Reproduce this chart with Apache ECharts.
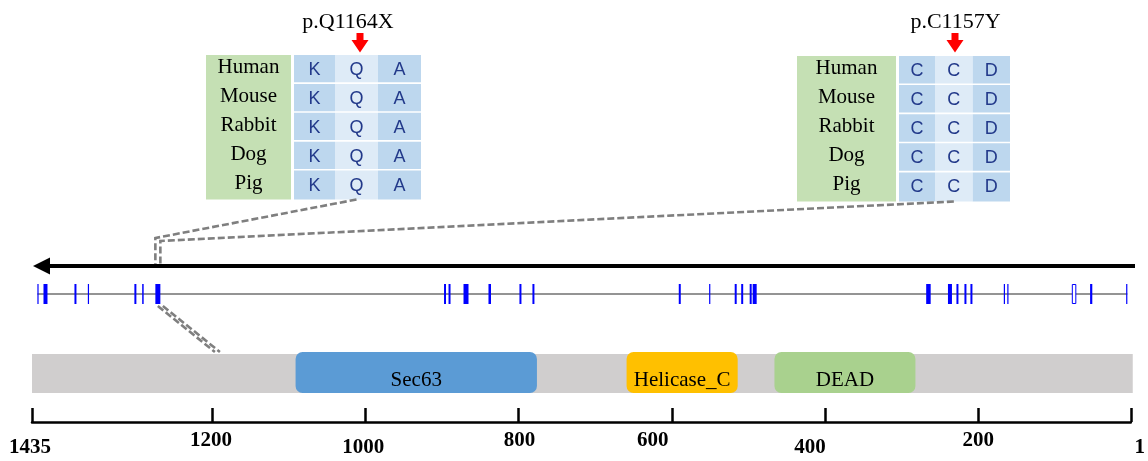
<!DOCTYPE html>
<html><head><meta charset="utf-8">
<script src="https://cdn.jsdelivr.net/npm/echarts@6/dist/echarts.min.js"></script>
<style>html,body{margin:0;padding:0;background:#fff}#c{width:1148px;height:461px}</style>
</head><body><div id="c"></div>
<script>
// ================= DATA =================
const proteinMin = 1;
const proteinMax = 1435;
const proteinTicks = [1435, 1200, 1000, 800, 600, 400, 200, 1];

const domainNames = ['Sec63', 'Helicase_C', 'DEAD'];
const domainFrom  = [1091, 659, 466];
const domainTo    = [776, 514, 282];

// exon track (relative genomic position, gene drawn right -> left)
const exonStart  = [3.4, 38.5, 55, 122.4, 125.9, 158.5, 164.5, 172.5, 179, 200.3, 374.5, 379.5, 388, 394.5, 420.9, 450.5, 597, 610, 640.5, 663, 681, 685.5, 971.5, 988.2, 995.5, 1042.9, 1055.5, 1084.5, 1093.4];
const exonLength = [1.2, 2.2, 3.5, 1.2, 1.2, 2, 2, 2, 4, 4.5, 4, 2, 2, 2, 1.2, 2, 2, 2, 2.5, 5, 2, 2, 5, 1.5, 2, 1.2, 2, 4, 1.2];
const exonIsUTR  = [0, 0, 1, 0, 0, 0, 0, 0, 0, 0, 0, 0, 0, 0, 0, 0, 0, 0, 0, 0, 0, 0, 0, 0, 0, 0, 0, 0, 0];
const mutatedExonIndex = 22;
const zoomTargetAA = 1193;

const speciesNames = ['Human', 'Mouse', 'Rabbit', 'Dog', 'Pig'];
const mutationNames = ['p.Q1164X', 'p.C1157Y'];
const mutationAA = [1164, 1157];
const residuesQ1164 = ['K', 'Q', 'A'];
const residuesC1157 = ['C', 'C', 'D'];

// ================= LAYOUT / STYLE =================
const SERIF = 'Liberation Serif';
const SANS = 'Liberation Sans';
const GRID = { left: 32, right: 15, top: 0, bottom: 39 };
const ARROW_Y = 266, EXON_Y0 = 284, EXON_Y1 = 304, BACKBONE_Y = 294;
const BAR_Y0 = 354, BAR_Y1 = 393, DOM_Y0 = 352, DOM_Y1 = 393, DOM_TEXT_Y = 380;
const domainColors = ['#5b9bd5', '#ffc000', '#a9d18e'];
const labelDx = { 1435: -2, 1200: -1, 1000: -2, 800: 1, 600: -19, 400: -15, 200: 0, 1: 9 };
const labelDy = { 1435: 7, 1200: 0, 1000: 7, 800: 0, 600: 0, 400: 7, 200: 0, 1: 7 };

const tableLayouts = [
  { labelX: 206, labelW: 85, cellX: 294, colW: [41, 43, 43], top: 55, rowH: 28.9,
    mutLabelX: 348, arrowX: 360, residues: residuesQ1164, name: mutationNames[0] },
  { labelX: 797, labelW: 99, cellX: 899, colW: [36, 37.7, 37.3], top: 56, rowH: 29.1,
    mutLabelX: 955.5, arrowX: 955, residues: residuesC1157, name: mutationNames[1] }
];

const rich = {};
proteinTicks.forEach(function (t) {
  const dx = labelDx[t] || 0, dy = labelDy[t] || 0;
  rich['t' + t] = {
    fontFamily: SERIF, fontWeight: 'bold', fontSize: 21, color: '#000',
    padding: [dy, dx < 0 ? -2 * dx : 0, 0, dx > 0 ? 2 * dx : 0]
  };
});

const chart = echarts.init(document.getElementById('c'), null, { renderer: 'canvas' });

function renderDomain(params, api) {
  const a = api.coord([api.value(0), 0]);
  const b = api.coord([api.value(1), 0]);
  const idx = api.value(2);
  const x = Math.min(a[0], b[0]), w = Math.abs(b[0] - a[0]);
  if (idx < 0) {
    return { type: 'rect', shape: { x: x, y: BAR_Y0, width: w + 2, height: BAR_Y1 - BAR_Y0 },
      style: { fill: '#d0cece' } };
  }
  return {
    type: 'group',
    children: [
      { type: 'rect', shape: { x: x, y: DOM_Y0, width: w, height: DOM_Y1 - DOM_Y0, r: 7 },
        style: { fill: domainColors[idx] } },
      { type: 'text', style: { text: domainNames[idx], x: x + w / 2, y: DOM_TEXT_Y,
        align: 'center', verticalAlign: 'middle', fontFamily: SERIF, fontSize: 21, fill: '#000' } }
    ]
  };
}

function renderExon(params, api) {
  const a = api.coord([api.value(0), 0]);
  const b = api.coord([api.value(0) + api.value(1), 0]);
  const x = Math.min(a[0], b[0]), w = Math.abs(b[0] - a[0]);
  if (api.value(2) === 1) {
    return { type: 'rect', shape: { x: x, y: EXON_Y0 + 0.5, width: w, height: EXON_Y1 - EXON_Y0 - 1 },
      style: { fill: '#fff', stroke: '#0000ff', lineWidth: 1 } };
  }
  return { type: 'rect', shape: { x: x, y: EXON_Y0, width: w, height: EXON_Y1 - EXON_Y0 },
    style: { fill: '#0000ff' } };
}

function renderBackbone(params, api) {
  const a = api.coord([api.value(0), 0]);
  const b = api.coord([api.value(1), 0]);
  return { type: 'line', shape: { x1: a[0], y1: BACKBONE_Y, x2: b[0], y2: BACKBONE_Y },
    style: { stroke: '#707070', lineWidth: 1.6 } };
}

const domainData = [[proteinMax, proteinMin, -1]].concat(
  domainNames.map(function (n, i) { return [domainFrom[i], domainTo[i], i]; }));
const exonData = exonStart.map(function (s, i) { return [s, exonLength[i], exonIsUTR[i]]; });
const exonMin = Math.min.apply(null, exonStart);
const exonMax = Math.max.apply(null, exonStart.map(function (s, i) { return s + exonLength[i]; }));

chart.setOption({
  animation: false,
  backgroundColor: '#fff',
  grid: GRID,
  xAxis: [
    { type: 'value', inverse: true, min: proteinMin, max: proteinMax, position: 'bottom',
      splitLine: { show: false },
      axisLine: { show: true, onZero: false, lineStyle: { color: '#000', width: 2.5 } },
      axisTick: { show: true, inside: true, length: 14, customValues: proteinTicks,
        lineStyle: { color: '#000', width: 2.5 } },
      axisLabel: { show: true, margin: 8, customValues: proteinTicks, showMinLabel: true, showMaxLabel: true,
        formatter: function (v) { return '{t' + v + '|' + v + '}'; }, rich: rich } },
    { type: 'value', inverse: true, min: 0, max: 1100, show: false, position: 'top' }
  ],
  yAxis: { type: 'value', inverse: true, min: 0, max: 422, show: false },
  series: [
    { type: 'custom', name: 'domains', xAxisIndex: 0, yAxisIndex: 0, renderItem: renderDomain,
      data: domainData, silent: true, clip: false },
    { type: 'custom', name: 'backbone', xAxisIndex: 1, yAxisIndex: 0, renderItem: renderBackbone,
      data: [[exonMin, exonMax]], silent: true, clip: false, z: 1 },
    { type: 'custom', name: 'exons', xAxisIndex: 1, yAxisIndex: 0, renderItem: renderExon,
      data: exonData, silent: true, clip: false, z: 2 }
  ]
});

// ------------- annotations (tables, gene arrow, connectors) -------------
const gLeft = GRID.left, gRight = 1148 - GRID.right;
const exonMid = exonStart[mutatedExonIndex] + exonLength[mutatedExonIndex] / 2;
const exonPx = chart.convertToPixel({ xAxisIndex: 1 }, exonMid);
const targetPx = chart.convertToPixel({ xAxisIndex: 0 }, zoomTargetAA);

const graphics = [];
// gene direction arrow
graphics.push({ type: 'line', shape: { x1: gRight + 2, y1: ARROW_Y, x2: gLeft + 14, y2: ARROW_Y },
  style: { stroke: '#000', lineWidth: 4 } });
graphics.push({ type: 'polygon', shape: { points: [[gLeft + 1, ARROW_Y], [gLeft + 18, ARROW_Y - 8.5], [gLeft + 18, ARROW_Y + 8.5]] },
  style: { fill: '#000' } });

const tableAnchors = [];
tableLayouts.forEach(function (L) {
  const nRows = speciesNames.length;
  const h = L.rowH * nRows;
  graphics.push({ type: 'rect', shape: { x: L.labelX, y: L.top, width: L.labelW, height: h },
    style: { fill: '#c5e0b4' } });
  let cx = L.cellX;
  L.colW.forEach(function (w, c) {
    for (let r = 0; r < nRows; r++) {
      const y = L.top + r * L.rowH;
      graphics.push({ type: 'rect', shape: { x: cx, y: y, width: w, height: L.rowH - (r < nRows - 1 ? 1.6 : 0) },
        style: { fill: c === 1 ? '#deebf7' : '#bdd7ee' } });
      graphics.push({ type: 'text', style: { text: L.residues[c], x: cx + w / 2, y: y + L.rowH / 2 + 0.5,
        align: 'center', verticalAlign: 'middle', fontFamily: SANS, fontSize: 18, fill: '#22398a' } });
    }
    if (c === 1) tableAnchors.push([cx + w / 2, L.top + h]);
    cx += w;
  });
  speciesNames.forEach(function (s, r) {
    graphics.push({ type: 'text', style: { text: s, x: L.labelX + L.labelW / 2, y: L.top + (r + 0.5) * L.rowH - 2,
      align: 'center', verticalAlign: 'middle', fontFamily: SERIF, fontSize: 21, fill: '#000' } });
  });
  graphics.push({ type: 'text', style: { text: L.name, x: L.mutLabelX, y: 22,
    align: 'center', verticalAlign: 'middle', fontFamily: SERIF, fontSize: 22, fill: '#000' } });
  const ax = L.arrowX;
  graphics.push({ type: 'polygon', shape: { points: [[ax - 3.5, 33], [ax + 3.5, 33], [ax + 3.5, 40], [ax + 8.5, 40],
    [ax, 52.5], [ax - 8.5, 40], [ax - 3.5, 40]] }, style: { fill: '#ff0000' } });
});

const dash = { stroke: '#7f7f7f', lineWidth: 2.6, lineDash: [7, 3], fill: null };
graphics.push({ type: 'polyline', shape: { points: [tableAnchors[0], [exonPx - 2.5, 238], [exonPx - 2.5, 264]] }, style: dash });
graphics.push({ type: 'polyline', shape: { points: [[tableAnchors[1][0], tableAnchors[1][1]], [exonPx + 2.5, 241], [exonPx + 2.5, 264]] }, style: dash });
graphics.push({ type: 'line', shape: { x1: exonPx, y1: 306, x2: targetPx - 2.5, y2: 352 }, style: dash });
graphics.push({ type: 'line', shape: { x1: exonPx + 5, y1: 306, x2: targetPx + 2.5, y2: 352 }, style: dash });

chart.setOption({ graphic: { elements: graphics } });
</script>
</body></html>
